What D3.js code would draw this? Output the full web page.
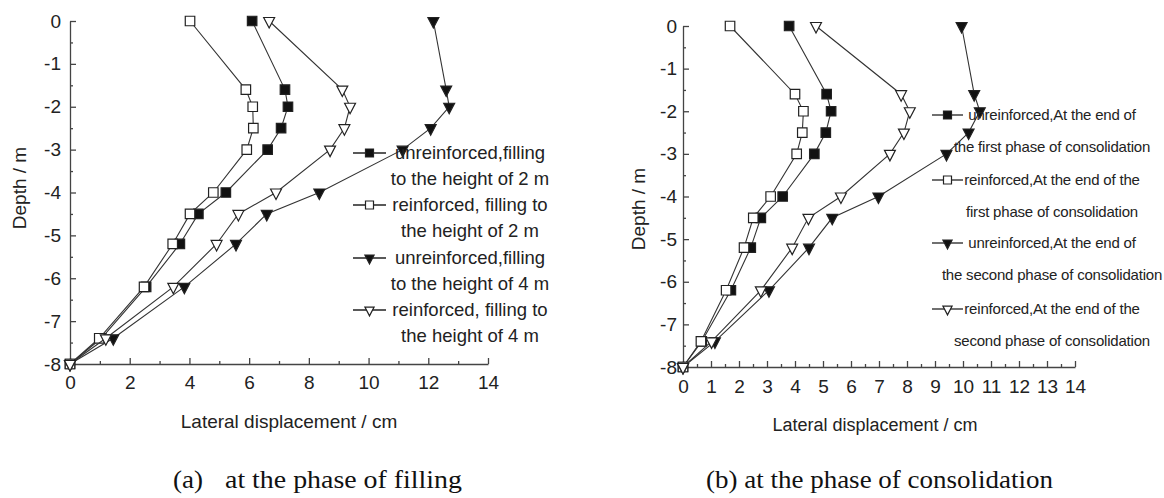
<!DOCTYPE html>
<html>
<head>
<meta charset="utf-8">
<script src="https://cdn.jsdelivr.net/npm/d3@7"></script>
<style>
  body { margin: 0; background: #fff; }
  svg { display: block; }
  .axis path, .axis line { stroke: #444; stroke-width: 1.3; }
  .axis text { font-family: "Liberation Sans", Arial, sans-serif; fill: #222; }
</style>
</head>
<body>
<div id="chart"></div>
<script>
// depth of the measuring points (m)
const depths = [0, -1.6, -2, -2.5, -3, -4, -4.5, -5.2, -6.2, -7.4, -8];

// (a) filling phase, lateral displacement (cm)
const unrein2m = [6.1, 7.2, 7.3, 7.07, 6.62, 5.22, 4.3, 3.68, 2.55, 1.05, 0];
const rein2m   = [4.02, 5.89, 6.12, 6.14, 5.92, 4.8, 4.02, 3.44, 2.48, 0.98, 0];
const unrein4m = [12.17, 12.6, 12.7, 12.08, 11.14, 8.35, 6.59, 5.56, 3.83, 1.45, 0];
const rein4m   = [6.67, 9.12, 9.38, 9.19, 8.71, 6.9, 5.64, 4.91, 3.46, 1.2, 0];

// (b) consolidation phase, lateral displacement (cm)
const unreinFirst  = [3.79, 5.13, 5.29, 5.1, 4.69, 3.56, 2.78, 2.42, 1.71, 0.67, 0];
const reinFirst    = [1.68, 4.0, 4.3, 4.26, 4.06, 3.13, 2.51, 2.18, 1.54, 0.64, 0];
const unreinSecond = [9.95, 10.4, 10.6, 10.2, 9.41, 6.98, 5.33, 4.5, 3.07, 1.14, 0];
const reinSecond   = [4.75, 7.79, 8.1, 7.89, 7.39, 5.64, 4.48, 3.9, 2.78, 1.02, 0];

const markers = ["filledSquare", "openSquare", "filledTri", "openTri"];

const legendA = [
  ["unreinforced,filling", "to the height of 2 m"],
  ["reinforced, filling to", "the height of 2 m"],
  ["unreinforced,filling", "to the height of 4 m"],
  ["reinforced, filling to", "the height of 4 m"]
];
const legendB = [
  ["unreinforced,At the end of", "the first phase of consolidation"],
  ["reinforced,At the end of the", "first phase of consolidation"],
  ["unreinforced,At the end of", "the second phase of consolidation"],
  ["reinforced,At the end of the", "second phase of consolidation"]
];

const xTicksA = [0, 2, 4, 6, 8, 10, 12, 14];
const xMinorA = [1, 3, 5, 7, 9, 11, 13];
const xTicksB = d3.range(0, 15, 1);
const xMinorB = d3.range(0.5, 14, 1);
const yTicks = [0, -1, -2, -3, -4, -5, -6, -7, -8];
const yMinor = [-0.5, -1.5, -2.5, -3.5, -4.5, -5.5, -6.5, -7.5];

const W = 1164, H = 498;
const svg = d3.select("#chart").append("svg")
  .attr("width", W).attr("height", H);

function markerPath(type, s) {
  if (type.endsWith("Square")) {
    return `M${-s / 2},${-s / 2}h${s}v${s}h${-s}Z`;
  }
  const w = s * 1.15, h = s * 1.1;
  return `M${-w / 2},${-h / 3}L${w / 2},${-h / 3}L0,${2 * h / 3}Z`;
}

function drawMarker(g, type, x, y, s) {
  const filled = type.startsWith("filled");
  g.append("path")
    .attr("d", markerPath(type, s))
    .attr("transform", `translate(${x},${y})`)
    .attr("fill", filled ? "#111" : "#fff")
    .attr("stroke", "#222")
    .attr("stroke-width", 1.2);
}

// plain hyphen for negatives, like the reference
const fmt = d => String(d);

function drawPanel(opt) {
  const g = svg.append("g");
  const x = d3.scaleLinear().domain([0, 14]).range(opt.xRange);
  const y = d3.scaleLinear().domain([-8, 0]).range(opt.yRange);

  // minor ticks
  g.append("g").attr("class", "axis")
    .attr("transform", `translate(0,${opt.yRange[0]})`)
    .call(d3.axisBottom(x).tickValues(opt.xMinor).tickSize(-3).tickFormat(""))
    .select(".domain").remove();
  g.append("g").attr("class", "axis")
    .attr("transform", `translate(${opt.xRange[0]},0)`)
    .call(d3.axisLeft(y).tickValues(yMinor).tickSize(-3).tickFormat(""))
    .select(".domain").remove();

  // major ticks
  g.append("g").attr("class", "axis")
    .attr("transform", `translate(0,${opt.yRange[0]})`)
    .call(d3.axisBottom(x).tickValues(opt.xTicks).tickSize(-6).tickSizeOuter(0)
      .tickPadding(opt.xPad).tickFormat(fmt))
    .selectAll("text").attr("font-size", opt.xFont);
  g.append("g").attr("class", "axis")
    .attr("transform", `translate(${opt.xRange[0]},0)`)
    .call(d3.axisLeft(y).tickValues(yTicks).tickSize(-6).tickSizeOuter(0)
      .tickPadding(opt.yPad).tickFormat(fmt))
    .selectAll("text").attr("font-size", 19);

  // axis titles
  g.append("text")
    .attr("transform", `translate(${opt.yTitle[0]},${opt.yTitle[1]}) rotate(-90)`)
    .attr("text-anchor", "middle").attr("dy", "0.35em")
    .attr("font-family", "Liberation Sans, Arial, sans-serif")
    .attr("font-size", 19).attr("fill", "#222")
    .text("Depth / m");
  g.append("text")
    .attr("x", opt.xTitle[0]).attr("y", opt.xTitle[1])
    .attr("text-anchor", "middle").attr("dy", "0.35em")
    .attr("font-family", "Liberation Sans, Arial, sans-serif")
    .attr("font-size", opt.xTitleFont).attr("fill", "#222")
    .text("Lateral displacement / cm");

  // series
  const line = d3.line().x(d => x(d[0])).y(d => y(d[1]));
  opt.series.forEach((vals, i) => {
    const pts = vals.map((v, j) => [v, depths[j]]);
    g.append("path").datum(pts)
      .attr("d", line)
      .attr("fill", "none")
      .attr("stroke", "#333")
      .attr("stroke-width", 1.1);
    pts.forEach(p => drawMarker(g, markers[i], x(p[0]), y(p[1]), 9.5));
  });

  // legend
  const lg = g.append("g");
  opt.legend.forEach((lines, i) => {
    const y0 = opt.legendY[i];
    lg.append("line")
      .attr("x1", opt.legendLine[0]).attr("x2", opt.legendLine[1])
      .attr("y1", y0).attr("y2", y0)
      .attr("stroke", "#222").attr("stroke-width", 1.3);
    drawMarker(lg, markers[i], (opt.legendLine[0] + opt.legendLine[1]) / 2, y0, 8);
    lines.forEach((t, k) => {
      lg.append("text")
        .attr("x", opt.legendX)
        .attr("y", y0 + k * opt.legendGap)
        .attr("dy", "0.35em")
        .attr("text-anchor", "middle")
        .attr("font-family", "Liberation Sans, Arial, sans-serif")
        .attr("font-size", opt.legendFont)
        .attr("letter-spacing", opt.legendSpacing || 0)
        .attr("fill", "#222")
        .text(t);
    });
  });
}

drawPanel({
  xRange: [70, 488], yRange: [364, 21],
  xTicks: xTicksA, xMinor: xMinorA, xPad: 12, yPad: 9, xFont: 19,
  yTitle: [19, 188], xTitle: [289, 421], xTitleFont: 19,
  series: [unrein2m, rein2m, unrein4m, rein4m],
  legend: legendA, legendY: [153, 205, 258, 310], legendGap: 25.5,
  legendLine: [353, 386], legendX: 470, legendFont: 18.5
});

drawPanel({
  xRange: [683, 1075], yRange: [367, 26],
  xTicks: xTicksB, xMinor: xMinorB, xPad: 13, yPad: 6, xFont: 19,
  yTitle: [638, 209], xTitle: [875, 425], xTitleFont: 18,
  series: [unreinFirst, reinFirst, unreinSecond, reinSecond],
  legend: legendB, legendY: [115, 180, 243, 309], legendGap: 31.5,
  legendLine: [932, 963], legendX: 1052, legendFont: 15, legendSpacing: -0.2
});

// captions
const cap = svg.append("g")
  .attr("font-family", "Liberation Serif, Times New Roman, serif")
  .attr("font-size", 25).attr("fill", "#111");
cap.append("text").attr("x", 173).attr("y", 488).text("(a)")
  .attr("textLength", 30).attr("lengthAdjust", "spacingAndGlyphs");
cap.append("text").attr("x", 225).attr("y", 488).text("at the phase of filling")
  .attr("textLength", 237).attr("lengthAdjust", "spacingAndGlyphs");
cap.append("text").attr("x", 706).attr("y", 488).text("(b) at the phase of consolidation")
  .attr("textLength", 347).attr("lengthAdjust", "spacingAndGlyphs");
</script>
</body>
</html>
